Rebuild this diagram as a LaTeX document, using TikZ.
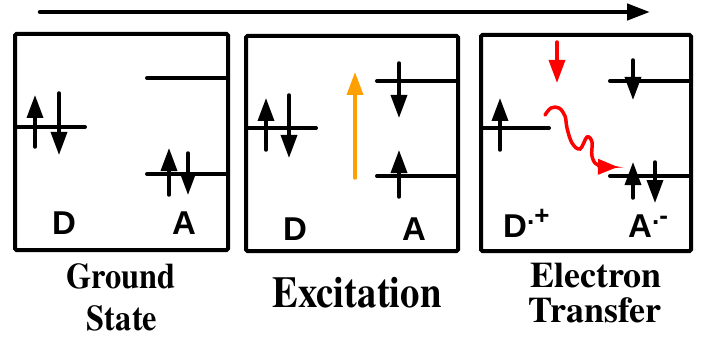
\documentclass[tikz,border=0pt]{standalone}
\usepackage{fontspec}
\setmainfont{Liberation Serif}
\setsansfont{Liberation Sans}
\newfontfamily\capfont{texgyretermes}[Extension=.otf, UprightFont=*-regular, BoldFont=*-bold]
\newfontfamily\orbfont{Liberation Sans}
\usetikzlibrary{arrows.meta}
\definecolor{excite}{RGB}{255,160,0}
\begin{document}
\begin{tikzpicture}[x=1pt,y=-1pt,
  panel/.style={draw, line width=4pt, rounded corners=1.5pt},
  level/.style={line width=4pt, line cap=round},
  spin/.style={line width=3.5pt, line cap=round, -{Triangle[length=23pt,width=16pt]}},
  photon/.style={spin, draw=excite},
  redarrow/.style={spin, draw=red},
  timeline/.style={line width=4.5pt, line cap=round, -{Triangle[length=23pt,width=16pt]}},
  orb/.style={font=\orbfont\bfseries\fontsize{33}{33}\selectfont, inner sep=0pt},
  capsmall/.style={font=\capfont\bfseries\fontsize{36}{36}\selectfont, inner sep=0pt, anchor=base},
  capbig/.style={font=\capfont\bfseries\fontsize{44}{44}\selectfont, inner sep=0pt, anchor=base}
]
\useasboundingbox (0,0) rectangle (705,337);

% time arrow
\coordinate (t0) at (40,12);
\coordinate (t1) at (650,12);
\draw[timeline] (t0) -- (t1);

% panels
\draw[panel] (15,34) rectangle (228,250);
\draw[panel] (246,36) rectangle (458,251);
\draw[panel] (481,35) rectangle (691,251);

% ---- ground state ----
\draw[level] (15,127) -- (85,127);
\draw[level] (147,78) -- (228,78);
\draw[level] (147,174) -- (228,174);
\draw[spin] (35,147) -- (35,95);
\draw[spin] (59,93) -- (59,155);
\draw[spin] (169,195) -- (169,148);
\draw[spin] (188,153) -- (188,195);
\node[orb, anchor=base] (d1) at (64,234) {D};
\node[orb, anchor=base] (a1) at (184,234) {A};

% ---- excitation ----
\draw[level] (246,128) -- (316,128);
\draw[level] (377,81) -- (458,81);
\draw[level] (377,176) -- (458,176);
\draw[spin] (266,150) -- (266,98);
\draw[spin] (289,95) -- (289,158);
\draw[spin] (399,63) -- (399,118);
\draw[spin] (399,197) -- (399,150);
\draw[photon] (355,178) -- (355,72);
\node[orb, anchor=base] (d2) at (295,240) {D};
\node[orb, anchor=base] (a2) at (414,240) {A};

% ---- electron transfer ----
\draw[level] (481,128) -- (549,128);
\draw[level] (610,81) -- (691,81);
\draw[level] (610,176) -- (691,176);
\draw[spin] (500,150) -- (500,98);
\draw[spin] (633,60) -- (633,100);
\draw[spin] (633,198) -- (633,162);
\draw[spin] (655,162) -- (655,203);
\draw[redarrow] (557,42) -- (557,83);
\draw[redarrow, -{Triangle[length=20pt,width=15pt]}]
  plot[smooth, tension=0.6] coordinates {(545,115) (551,108) (559,108) (565,116) (567,128) (572,143) (580,149) (587,137) (592,142) (592,156) (598,165) (618,167)};
\node[orb, anchor=base west] (d3) at (503,237) {D\raisebox{13pt}{\fontsize{26}{26}\selectfont .+}};
\node[orb, anchor=base west] (a3) at (628,237) {A\raisebox{13pt}{\fontsize{26}{26}\selectfont .-}};

% ---- captions ----
\node[capsmall] (c1a) at (121,288) {\scalebox{0.9}[1]{Ground}};
\node[capsmall] (c1b) at (122,330) {\scalebox{0.9}[1]{State}};
\node[capbig] (c2) at (357,307) {\scalebox{0.88}[1]{Excitation}};
\node[capsmall] (c3a) at (596,287) {Electron};
\node[capsmall] (c3b) at (595,322) {Transfer};
\end{tikzpicture}
\end{document}
